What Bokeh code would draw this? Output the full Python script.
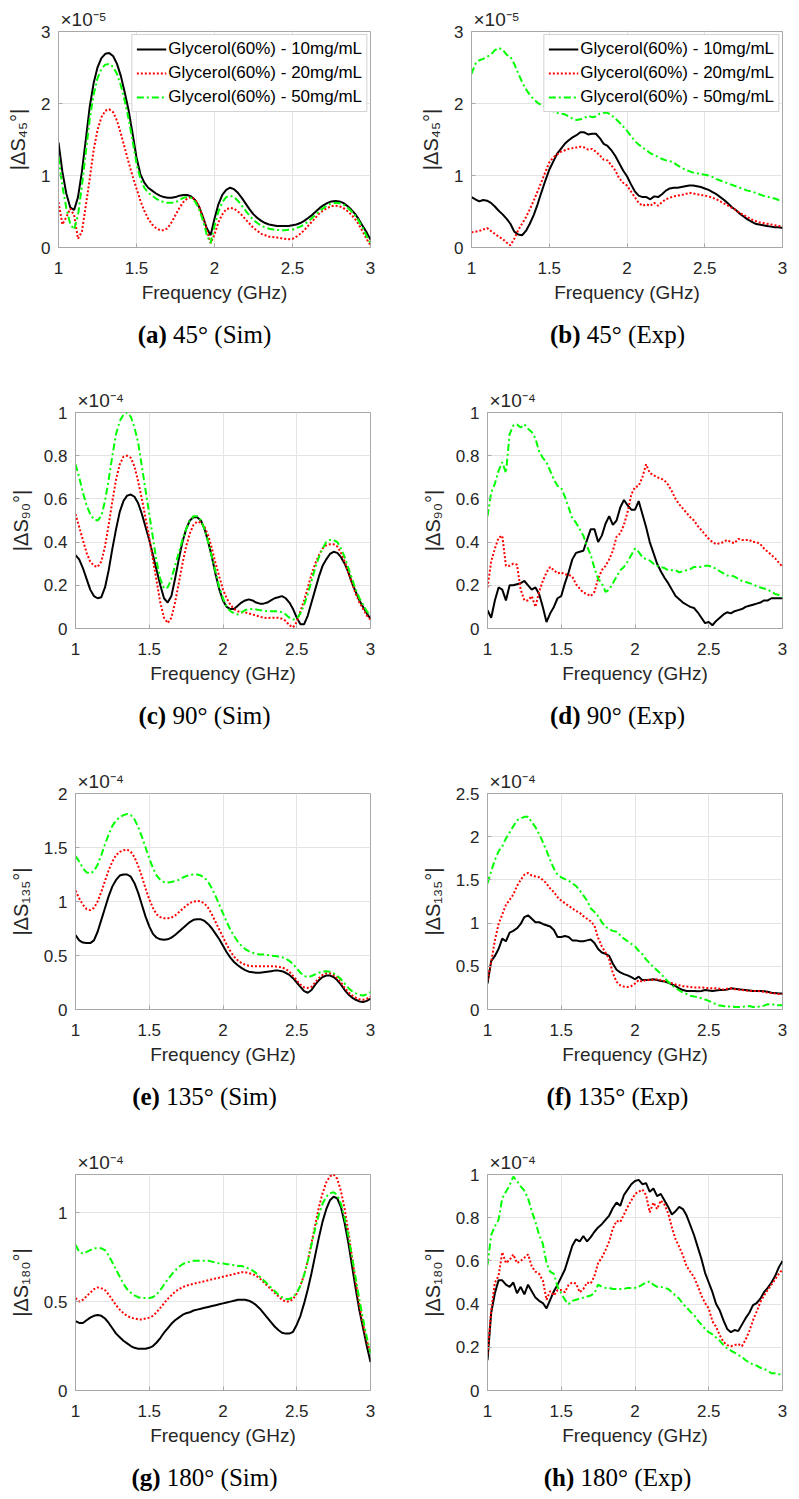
from bokeh.plotting import figure
from bokeh.models import Range1d, FixedTicker, CustomJSTickFormatter
from bokeh.layouts import column, row
from bokeh.core.properties import value
from bokeh.embed import file_html
from bokeh.resources import INLINE

# ---------------- data (values shown in units of the axis exponent) ----------------
freq = [round(1.0 + 0.025 * i, 3) for i in range(81)]

series_labels = ["Glycerol(60%) - 10mg/mL", "Glycerol(60%) - 20mg/mL", "Glycerol(60%) - 50mg/mL"]

# (a) 45 deg Sim  (x1e-5)
a_10 = [1.46, 1.05, 0.75, 0.56, 0.52, 0.70, 1.05, 1.50, 1.95, 2.28,
        2.50, 2.63, 2.69, 2.70, 2.66, 2.55, 2.38, 2.15, 1.90, 1.58,
        1.25, 1.02, 0.90, 0.83, 0.79, 0.75, 0.72, 0.70, 0.69, 0.69,
        0.70, 0.72, 0.73, 0.73, 0.71, 0.66, 0.57, 0.43, 0.27, 0.17,
        0.40, 0.60, 0.73, 0.80, 0.83, 0.81, 0.76, 0.69, 0.61, 0.53,
        0.46, 0.41, 0.37, 0.34, 0.32, 0.31, 0.30, 0.30, 0.30, 0.30,
        0.31, 0.32, 0.34, 0.37, 0.41, 0.45, 0.50, 0.55, 0.59, 0.62,
        0.64, 0.645, 0.64, 0.62, 0.58, 0.53, 0.47, 0.39, 0.30, 0.21,
        0.11]
a_20 = [0.63, 0.32, 0.42, 0.54, 0.45, 0.12, 0.22, 0.58, 0.95, 1.35,
        1.63, 1.81, 1.90, 1.92, 1.88, 1.76, 1.58, 1.38, 1.18, 0.99,
        0.82, 0.65, 0.51, 0.40, 0.32, 0.27, 0.24, 0.24, 0.27, 0.35,
        0.45, 0.55, 0.63, 0.68, 0.70, 0.67, 0.58, 0.43, 0.25, 0.06,
        0.18, 0.35, 0.46, 0.53, 0.55, 0.54, 0.50, 0.45, 0.39, 0.33,
        0.27, 0.23, 0.19, 0.17, 0.15, 0.145, 0.14, 0.13, 0.12, 0.115,
        0.12, 0.15, 0.19, 0.24, 0.30, 0.36, 0.42, 0.48, 0.52, 0.55,
        0.575, 0.58, 0.575, 0.55, 0.51, 0.46, 0.40, 0.32, 0.22, 0.12,
        0.03]
a_50 = [1.25, 0.85, 0.55, 0.33, 0.25, 0.45, 0.85, 1.32, 1.78, 2.12,
        2.35, 2.48, 2.54, 2.55, 2.51, 2.41, 2.25, 2.03, 1.78, 1.48,
        1.17, 0.95, 0.83, 0.76, 0.72, 0.68, 0.65, 0.63, 0.62, 0.62,
        0.63, 0.66, 0.69, 0.70, 0.69, 0.64, 0.54, 0.38, 0.18, 0.06,
        0.30, 0.50, 0.63, 0.70, 0.72, 0.70, 0.65, 0.58, 0.51, 0.44,
        0.38, 0.34, 0.30, 0.28, 0.26, 0.25, 0.245, 0.24, 0.24, 0.245,
        0.25, 0.27, 0.29, 0.32, 0.36, 0.41, 0.46, 0.51, 0.55, 0.59,
        0.61, 0.62, 0.615, 0.60, 0.56, 0.51, 0.45, 0.37, 0.27, 0.16,
        0.06]

# (b) 45 deg Exp  (x1e-5)
b_10 = [0.70, 0.67, 0.64, 0.66, 0.65, 0.62, 0.57, 0.51, 0.46, 0.40,
        0.33, 0.22, 0.18, 0.17, 0.23, 0.33, 0.45, 0.60, 0.77, 0.93,
        1.08, 1.19, 1.30, 1.37, 1.44, 1.49, 1.53, 1.56, 1.60, 1.60,
        1.57, 1.58, 1.58, 1.52, 1.44, 1.41, 1.35, 1.27, 1.17, 1.07,
        0.99, 0.88, 0.78, 0.72, 0.70, 0.70, 0.67, 0.71, 0.70, 0.74,
        0.79, 0.82, 0.83, 0.83, 0.84, 0.85, 0.86, 0.86, 0.85, 0.84,
        0.82, 0.80, 0.77, 0.74, 0.70, 0.66, 0.61, 0.56, 0.52, 0.47,
        0.43, 0.39, 0.36, 0.33, 0.32, 0.31, 0.30, 0.29, 0.28, 0.28,
        0.27]
b_20 = [0.21, 0.22, 0.23, 0.25, 0.27, 0.23, 0.19, 0.15, 0.12, 0.07,
        0.03, 0.12, 0.24, 0.33, 0.42, 0.53, 0.65, 0.78, 0.91, 1.05,
        1.18, 1.25, 1.29, 1.33, 1.35, 1.37, 1.38, 1.39, 1.40, 1.39,
        1.36, 1.37, 1.33, 1.28, 1.22, 1.21, 1.14, 1.07, 0.96, 0.90,
        0.86, 0.78, 0.70, 0.62, 0.58, 0.60, 0.58, 0.62, 0.58, 0.63,
        0.67, 0.69, 0.71, 0.72, 0.73, 0.74, 0.76, 0.75, 0.74, 0.73,
        0.72, 0.71, 0.69, 0.67, 0.64, 0.61, 0.58, 0.55, 0.52, 0.48,
        0.45, 0.42, 0.39, 0.37, 0.35, 0.34, 0.33, 0.32, 0.31, 0.30,
        0.29]
b_50 = [2.41, 2.55, 2.60, 2.62, 2.65, 2.68, 2.74, 2.77, 2.75, 2.68,
        2.65, 2.55, 2.42, 2.30, 2.20, 2.12, 2.06, 2.01, 1.98, 1.95,
        1.92, 1.89, 1.87, 1.86, 1.85, 1.82, 1.79, 1.77, 1.78, 1.80,
        1.83, 1.81, 1.82, 1.86, 1.87, 1.87, 1.84, 1.79, 1.74, 1.68,
        1.62, 1.55, 1.48, 1.43, 1.39, 1.35, 1.31, 1.28, 1.26, 1.23,
        1.21, 1.20, 1.18, 1.14, 1.11, 1.08, 1.06, 1.04, 1.03, 1.02,
        1.01, 1.00, 0.98, 0.95, 0.93, 0.91, 0.89, 0.87, 0.85, 0.83,
        0.81, 0.79, 0.78, 0.76, 0.74, 0.72, 0.71, 0.69, 0.68, 0.66,
        0.65]

# (c) 90 deg Sim  (x1e-4)
c_10 = [0.34, 0.32, 0.28, 0.23, 0.18, 0.15, 0.14, 0.145, 0.19, 0.27,
        0.37, 0.46, 0.54, 0.59, 0.615, 0.62, 0.61, 0.58, 0.53, 0.47,
        0.41, 0.34, 0.27, 0.20, 0.14, 0.12, 0.15, 0.23, 0.32, 0.40,
        0.46, 0.50, 0.515, 0.515, 0.50, 0.46, 0.40, 0.33, 0.25, 0.18,
        0.13, 0.10, 0.09, 0.09, 0.105, 0.12, 0.13, 0.135, 0.13, 0.12,
        0.115, 0.115, 0.12, 0.13, 0.14, 0.145, 0.15, 0.14, 0.12, 0.09,
        0.05, 0.02, 0.02, 0.06, 0.12, 0.18, 0.24, 0.29, 0.32, 0.345,
        0.355, 0.35, 0.33, 0.30, 0.26, 0.21, 0.17, 0.13, 0.10, 0.07,
        0.045]
c_20 = [0.53, 0.47, 0.41, 0.35, 0.31, 0.29, 0.285, 0.31, 0.38, 0.48,
        0.59, 0.69, 0.76, 0.795, 0.80, 0.79, 0.75, 0.68, 0.60, 0.51,
        0.42, 0.32, 0.22, 0.12, 0.05, 0.025, 0.05, 0.12, 0.21, 0.30,
        0.38, 0.44, 0.48, 0.495, 0.49, 0.47, 0.43, 0.37, 0.30, 0.24,
        0.18, 0.14, 0.11, 0.09, 0.08, 0.075, 0.075, 0.07, 0.065, 0.06,
        0.055, 0.05, 0.048, 0.05, 0.05, 0.05, 0.045, 0.035, 0.015, 0.005,
        0.03, 0.08, 0.13, 0.19, 0.25, 0.30, 0.34, 0.37, 0.385, 0.39,
        0.39, 0.38, 0.35, 0.31, 0.26, 0.21, 0.16, 0.12, 0.09, 0.06,
        0.04]
c_50 = [0.76, 0.70, 0.63, 0.57, 0.53, 0.505, 0.50, 0.52, 0.59, 0.69,
        0.80, 0.90, 0.96, 0.99, 1.00, 0.98, 0.93, 0.86, 0.75, 0.64,
        0.53, 0.42, 0.31, 0.23, 0.185, 0.19, 0.23, 0.29, 0.35, 0.41,
        0.46, 0.50, 0.52, 0.52, 0.50, 0.46, 0.40, 0.33, 0.26, 0.19,
        0.14, 0.10, 0.08, 0.07, 0.065, 0.075, 0.085, 0.09, 0.09, 0.088,
        0.085, 0.082, 0.08, 0.08, 0.08, 0.08, 0.075, 0.065, 0.05, 0.042,
        0.045, 0.07, 0.11, 0.16, 0.22, 0.28, 0.33, 0.37, 0.40, 0.41,
        0.41, 0.40, 0.37, 0.33, 0.28, 0.23, 0.18, 0.14, 0.11, 0.08,
        0.06]

# (d) 90 deg Exp  (x1e-4)
d_10 = [0.085, 0.05, 0.13, 0.19, 0.18, 0.13, 0.20, 0.20, 0.205, 0.21,
        0.22, 0.20, 0.18, 0.19, 0.16, 0.10, 0.03, 0.07, 0.10, 0.14,
        0.15, 0.21, 0.26, 0.32, 0.35, 0.355, 0.36, 0.41, 0.46, 0.46,
        0.40, 0.43, 0.485, 0.52, 0.48, 0.50, 0.56, 0.595, 0.57, 0.55,
        0.55, 0.59, 0.53, 0.47, 0.40, 0.35, 0.30, 0.265, 0.235, 0.21,
        0.18, 0.15, 0.135, 0.12, 0.11, 0.10, 0.095, 0.075, 0.05, 0.025,
        0.03, 0.015, 0.035, 0.05, 0.065, 0.075, 0.07, 0.08, 0.085, 0.09,
        0.10, 0.105, 0.11, 0.115, 0.12, 0.13, 0.13, 0.14, 0.14, 0.14,
        0.14]
d_20 = [0.19, 0.31, 0.37, 0.42, 0.43, 0.29, 0.29, 0.30, 0.295, 0.18,
        0.13, 0.13, 0.15, 0.10, 0.17, 0.22, 0.26, 0.285, 0.27, 0.255,
        0.26, 0.25, 0.25, 0.24, 0.205, 0.185, 0.165, 0.16, 0.15, 0.17,
        0.23, 0.27, 0.29, 0.32, 0.36, 0.425, 0.44, 0.48, 0.54, 0.62,
        0.655, 0.66, 0.70, 0.76, 0.72, 0.71, 0.70, 0.695, 0.685, 0.665,
        0.635, 0.60, 0.575, 0.555, 0.535, 0.515, 0.50, 0.475, 0.455, 0.435,
        0.415, 0.40, 0.39, 0.395, 0.40, 0.41, 0.40, 0.395, 0.415, 0.41,
        0.41, 0.41, 0.40, 0.40, 0.39, 0.37, 0.355, 0.34, 0.325, 0.305,
        0.285]
d_50 = [0.52, 0.63, 0.67, 0.73, 0.77, 0.72, 0.90, 0.94, 0.945, 0.93,
        0.945, 0.925, 0.91, 0.88, 0.82, 0.79, 0.77, 0.73, 0.69, 0.66,
        0.65, 0.61, 0.56, 0.51, 0.49, 0.46, 0.43, 0.38, 0.34, 0.28,
        0.23, 0.21, 0.17, 0.18, 0.21, 0.24, 0.27, 0.285, 0.31, 0.34,
        0.37, 0.355, 0.33, 0.32, 0.315, 0.30, 0.29, 0.285, 0.28, 0.27,
        0.27, 0.27, 0.26, 0.265, 0.27, 0.275, 0.285, 0.285, 0.285, 0.29,
        0.29, 0.285, 0.275, 0.265, 0.255, 0.245, 0.245, 0.24, 0.23, 0.22,
        0.215, 0.21, 0.205, 0.195, 0.19, 0.185, 0.18, 0.17, 0.16, 0.155,
        0.145]

# (e) 135 deg Sim  (x1e-4)
e_10 = [0.69, 0.64, 0.62, 0.615, 0.615, 0.64, 0.72, 0.83, 0.94, 1.05,
        1.14, 1.20, 1.24, 1.25, 1.25, 1.23, 1.17, 1.08, 0.97, 0.86,
        0.77, 0.70, 0.665, 0.65, 0.645, 0.65, 0.665, 0.69, 0.72, 0.75,
        0.78, 0.81, 0.83, 0.835, 0.835, 0.82, 0.79, 0.75, 0.70, 0.65,
        0.59, 0.53, 0.48, 0.44, 0.41, 0.385, 0.365, 0.35, 0.345, 0.34,
        0.34, 0.345, 0.35, 0.355, 0.36, 0.36, 0.355, 0.34, 0.32, 0.29,
        0.25, 0.21, 0.17, 0.155, 0.18, 0.23, 0.27, 0.30, 0.315, 0.315,
        0.30, 0.27, 0.23, 0.18, 0.14, 0.11, 0.09, 0.075, 0.07, 0.08,
        0.10]
e_20 = [1.10, 1.03, 0.97, 0.93, 0.92, 0.94, 1.00, 1.09, 1.19, 1.29,
        1.37, 1.43, 1.46, 1.475, 1.48, 1.46, 1.41, 1.33, 1.23, 1.12,
        1.02, 0.94, 0.88, 0.855, 0.845, 0.845, 0.85, 0.87, 0.90, 0.93,
        0.96, 0.985, 1.00, 1.005, 1.00, 0.98, 0.94, 0.88, 0.81, 0.74,
        0.67, 0.60, 0.54, 0.49, 0.455, 0.43, 0.415, 0.405, 0.40, 0.40,
        0.40, 0.40, 0.40, 0.40, 0.40, 0.395, 0.39, 0.375, 0.35, 0.31,
        0.27, 0.23, 0.205, 0.20, 0.21, 0.25, 0.29, 0.32, 0.335, 0.335,
        0.32, 0.29, 0.25, 0.20, 0.16, 0.13, 0.11, 0.095, 0.09, 0.10,
        0.12]
e_50 = [1.42, 1.37, 1.31, 1.27, 1.26, 1.28, 1.34, 1.43, 1.53, 1.62,
        1.70, 1.75, 1.78, 1.80, 1.81, 1.80, 1.76, 1.69, 1.60, 1.50,
        1.40, 1.31, 1.24, 1.20, 1.18, 1.175, 1.18, 1.19, 1.20, 1.22,
        1.235, 1.245, 1.25, 1.25, 1.24, 1.22, 1.18, 1.12, 1.05, 0.97,
        0.89, 0.81, 0.74, 0.68, 0.63, 0.59, 0.56, 0.54, 0.525, 0.515,
        0.51, 0.51, 0.505, 0.50, 0.495, 0.49, 0.485, 0.47, 0.45, 0.42,
        0.38, 0.34, 0.31, 0.30, 0.31, 0.325, 0.34, 0.35, 0.355, 0.35,
        0.335, 0.31, 0.28, 0.24, 0.20, 0.17, 0.15, 0.135, 0.13, 0.14,
        0.16]

# (f) 135 deg Exp  (x1e-4)
f_10 = [0.30, 0.56, 0.62, 0.70, 0.82, 0.79, 0.89, 0.91, 0.94, 0.99,
        1.07, 1.09, 1.05, 1.01, 1.01, 0.99, 0.975, 0.96, 0.92, 0.84,
        0.84, 0.85, 0.84, 0.80, 0.80, 0.79, 0.79, 0.80, 0.81, 0.77,
        0.70, 0.66, 0.645, 0.62, 0.53, 0.46, 0.43, 0.41, 0.395, 0.375,
        0.35, 0.38, 0.34, 0.34, 0.345, 0.35, 0.34, 0.33, 0.325, 0.31,
        0.29, 0.27, 0.245, 0.225, 0.215, 0.215, 0.215, 0.21, 0.215, 0.225,
        0.22, 0.215, 0.22, 0.225, 0.225, 0.23, 0.245, 0.24, 0.235, 0.23,
        0.225, 0.22, 0.215, 0.215, 0.215, 0.21, 0.205, 0.195, 0.19, 0.185,
        0.185]
f_20 = [0.34, 0.55, 0.80, 0.99, 1.10, 1.21, 1.27, 1.33, 1.43, 1.50,
        1.56, 1.58, 1.55, 1.54, 1.53, 1.50, 1.46, 1.40, 1.36, 1.30,
        1.26, 1.23, 1.20, 1.17, 1.14, 1.12, 1.08, 1.05, 1.02, 0.97,
        0.83, 0.73, 0.66, 0.58, 0.42, 0.32, 0.28, 0.265, 0.26, 0.27,
        0.30, 0.34, 0.32, 0.345, 0.34, 0.345, 0.35, 0.34, 0.33, 0.32,
        0.305, 0.29, 0.28, 0.27, 0.265, 0.26, 0.255, 0.255, 0.255, 0.25,
        0.245, 0.245, 0.245, 0.24, 0.23, 0.24, 0.245, 0.235, 0.23, 0.225,
        0.22, 0.215, 0.215, 0.215, 0.21, 0.205, 0.195, 0.19, 0.185, 0.18,
        0.18]
f_50 = [1.46, 1.60, 1.73, 1.83, 1.89, 1.98, 2.05, 2.12, 2.19, 2.21,
        2.23, 2.23, 2.17, 2.11, 2.03, 1.94, 1.84, 1.73, 1.63, 1.56,
        1.53, 1.51, 1.49, 1.46, 1.43, 1.38, 1.32, 1.26, 1.17, 1.13,
        1.08, 1.01, 0.96, 0.93, 0.91, 0.90, 0.86, 0.82, 0.79, 0.76,
        0.73, 0.68, 0.64, 0.58, 0.535, 0.49, 0.455, 0.41, 0.37, 0.32,
        0.28, 0.25, 0.22, 0.195, 0.18, 0.16, 0.15, 0.145, 0.13, 0.115,
        0.10, 0.08, 0.06, 0.045, 0.04, 0.03, 0.04, 0.03, 0.03, 0.03,
        0.035, 0.04, 0.03, 0.03, 0.035, 0.045, 0.06, 0.065, 0.05, 0.05,
        0.05]

# (g) 180 deg Sim  (x1e-4)
g_10 = [0.39, 0.38, 0.38, 0.395, 0.41, 0.42, 0.425, 0.42, 0.405, 0.38,
        0.35, 0.32, 0.30, 0.28, 0.265, 0.25, 0.24, 0.235, 0.235, 0.235,
        0.24, 0.25, 0.27, 0.295, 0.325, 0.35, 0.375, 0.395, 0.41, 0.425,
        0.435, 0.44, 0.45, 0.455, 0.46, 0.465, 0.47, 0.475, 0.48, 0.485,
        0.49, 0.495, 0.50, 0.505, 0.51, 0.51, 0.51, 0.505, 0.495, 0.48,
        0.46, 0.435, 0.41, 0.385, 0.36, 0.34, 0.325, 0.32, 0.32, 0.33,
        0.37, 0.42, 0.49, 0.57, 0.66, 0.76, 0.86, 0.95, 1.02, 1.07,
        1.09, 1.08, 1.03, 0.94, 0.83, 0.70, 0.57, 0.45, 0.35, 0.25,
        0.16]
g_20 = [0.52, 0.50, 0.51, 0.53, 0.55, 0.57, 0.58, 0.575, 0.565, 0.54,
        0.51, 0.48, 0.455, 0.435, 0.42, 0.41, 0.405, 0.40, 0.40, 0.405,
        0.41, 0.42, 0.44, 0.465, 0.49, 0.515, 0.535, 0.555, 0.57, 0.58,
        0.59, 0.595, 0.60, 0.605, 0.61, 0.615, 0.62, 0.625, 0.63, 0.635,
        0.64, 0.645, 0.65, 0.655, 0.66, 0.665, 0.665, 0.66, 0.655, 0.645,
        0.63, 0.61, 0.59, 0.57, 0.55, 0.53, 0.51, 0.50, 0.50, 0.515,
        0.545, 0.59, 0.65, 0.73, 0.83, 0.93, 1.03, 1.11, 1.17, 1.205,
        1.215, 1.19, 1.12, 1.02, 0.89, 0.75, 0.61, 0.48, 0.37, 0.28,
        0.21]
g_50 = [0.82, 0.78, 0.77, 0.78, 0.79, 0.80, 0.80, 0.80, 0.79, 0.76,
        0.72, 0.68, 0.64, 0.60, 0.57, 0.55, 0.535, 0.525, 0.52, 0.52,
        0.52, 0.525, 0.54, 0.565, 0.595, 0.625, 0.65, 0.675, 0.695, 0.71,
        0.72, 0.725, 0.73, 0.73, 0.73, 0.73, 0.73, 0.725, 0.72, 0.715,
        0.715, 0.71, 0.71, 0.705, 0.70, 0.70, 0.695, 0.685, 0.675, 0.66,
        0.64, 0.62, 0.60, 0.58, 0.56, 0.54, 0.525, 0.515, 0.515, 0.525,
        0.55, 0.59, 0.65, 0.73, 0.82, 0.91, 0.99, 1.05, 1.09, 1.11,
        1.115, 1.10, 1.05, 0.97, 0.87, 0.75, 0.63, 0.51, 0.40, 0.30,
        0.21]

# (h) 180 deg Exp  (x1e-4)
h_10 = [0.14, 0.36, 0.45, 0.51, 0.51, 0.49, 0.48, 0.50, 0.45, 0.48,
        0.445, 0.49, 0.46, 0.43, 0.415, 0.405, 0.38, 0.42, 0.46, 0.49,
        0.525, 0.56, 0.615, 0.67, 0.70, 0.69, 0.715, 0.69, 0.71, 0.735,
        0.755, 0.77, 0.79, 0.81, 0.845, 0.87, 0.855, 0.905, 0.93, 0.955,
        0.97, 0.975, 0.955, 0.96, 0.92, 0.935, 0.90, 0.91, 0.88, 0.85,
        0.815, 0.83, 0.85, 0.84, 0.81, 0.765, 0.72, 0.665, 0.61, 0.545,
        0.50, 0.455, 0.40, 0.37, 0.325, 0.285, 0.27, 0.28, 0.275, 0.305,
        0.335, 0.36, 0.395, 0.405, 0.425, 0.455, 0.475, 0.50, 0.53, 0.57,
        0.60]
h_20 = [0.17, 0.37, 0.50, 0.53, 0.64, 0.59, 0.605, 0.63, 0.59, 0.60,
        0.615, 0.63, 0.575, 0.55, 0.54, 0.51, 0.42, 0.46, 0.44, 0.465,
        0.465, 0.455, 0.49, 0.50, 0.495, 0.455, 0.47, 0.50, 0.495, 0.53,
        0.59, 0.615, 0.65, 0.69, 0.75, 0.785, 0.78, 0.815, 0.85, 0.88,
        0.91, 0.92, 0.93, 0.905, 0.825, 0.87, 0.84, 0.88, 0.86, 0.82,
        0.755, 0.70, 0.665, 0.625, 0.575, 0.55, 0.525, 0.485, 0.44, 0.405,
        0.38, 0.32, 0.295, 0.255, 0.225, 0.21, 0.205, 0.21, 0.215, 0.205,
        0.235, 0.275, 0.325, 0.365, 0.41, 0.44, 0.465, 0.49, 0.515, 0.54,
        0.56]
h_50 = [0.58, 0.72, 0.76, 0.79, 0.89, 0.92, 0.95, 0.99, 0.97, 0.945,
        0.925, 0.89, 0.83, 0.78, 0.72, 0.68, 0.59, 0.55, 0.54, 0.48,
        0.45, 0.42, 0.40, 0.415, 0.42, 0.425, 0.43, 0.435, 0.44, 0.45,
        0.49, 0.48, 0.475, 0.475, 0.47, 0.47, 0.47, 0.47, 0.475, 0.475,
        0.475, 0.48, 0.49, 0.50, 0.505, 0.49, 0.48, 0.48, 0.475, 0.47,
        0.455, 0.44, 0.425, 0.40, 0.385, 0.365, 0.35, 0.325, 0.305, 0.285,
        0.27, 0.26, 0.245, 0.23, 0.21, 0.195, 0.185, 0.175, 0.165, 0.155,
        0.14, 0.13, 0.12, 0.115, 0.105, 0.10, 0.09, 0.08, 0.08, 0.075,
        0.075]

x_ticks = [1, 1.5, 2, 2.5, 3]
yticks_45 = [0, 1, 2, 3]
yticks_90 = [0, 0.2, 0.4, 0.6, 0.8, 1]
yticks_135s = [0, 0.5, 1, 1.5, 2]
yticks_135e = [0, 0.5, 1, 1.5, 2, 2.5]
yticks_180s = [0, 0.5, 1]
yticks_180e = [0, 0.2, 0.4, 0.6, 0.8, 1]

# ---------------- styling / layout ----------------
SANS = "Liberation Sans"
SERIF = "Liberation Serif"
FRAME_C = "#a8a8a8"
GRID_C = "#e4e4e4"
TXT_C = "#262626"
TOP, FRAME_H, BOTTOM = 31, 216, 70
CAP_SIZE = 25

SERIF_W = {'(': .333, ')': .333, ' ': .25, '°': .4, 'S': .556, 'i': .278, 'm': .778,
           'E': .611, 'x': .5, 'p': .5}
BOLD_W = {'(': .333, ')': .333, 'a': .5, 'b': .556, 'c': .444, 'd': .556,
          'e': .444, 'f': .333, 'g': .5, 'h': .556}


def tw(s, table, size):
    return sum(table.get(ch, .5) for ch in s) * size


def panel(angle, s10, s20, s50, ytop, yticks, expo, left_b, right_b, width, legend):
    p = figure(width=width, height=TOP + FRAME_H + BOTTOM,
               x_range=Range1d(1, 3), y_range=Range1d(0, ytop),
               output_backend="svg", toolbar_location=None,
               min_border_left=left_b, min_border_right=right_b,
               min_border_top=TOP, min_border_bottom=BOTTOM,
               background_fill_color="white", border_fill_color="white")
    p.outline_line_color = FRAME_C
    p.outline_line_width = 1
    # exponent of the y axis, shown above the top-left corner like MATLAB
    p.title.text = "×10" + expo
    p.title.align = "left"
    p.title.offset = 2
    p.title.standoff = 3
    p.title.text_font = SANS
    p.title.text_font_size = "19px"
    p.title.text_font_style = "normal"
    p.title.text_color = TXT_C

    p.xaxis.ticker = FixedTicker(ticks=x_ticks)
    p.yaxis.ticker = FixedTicker(ticks=yticks)
    p.xaxis.formatter = CustomJSTickFormatter(code="return tick.toString();")
    p.yaxis.formatter = CustomJSTickFormatter(code="return tick.toString();")
    for ax in (p.xaxis[0], p.yaxis[0]):
        ax.axis_line_color = FRAME_C
        ax.major_tick_line_color = FRAME_C
        ax.major_tick_in = 4
        ax.major_tick_out = 0
        ax.minor_tick_line_color = None
        ax.major_label_text_font = SANS
        ax.major_label_text_font_size = "17px"
        ax.major_label_text_color = TXT_C
        ax.axis_label_text_font = SANS
        ax.axis_label_text_font_size = "19px"
        ax.axis_label_text_font_style = "normal"
        ax.axis_label_text_color = TXT_C
    p.xaxis.major_label_standoff = 14
    p.yaxis.major_label_standoff = 8
    p.xaxis.axis_label = "Frequency (GHz)"
    p.xaxis.axis_label_standoff = 5
    sub = {"45": "₄₅", "90": "₉₀", "135": "₁₃₅", "180": "₁₈₀"}[angle]
    p.yaxis.axis_label = "|ΔS" + sub + "°|"
    p.yaxis.axis_label_text_font_size = "20px"
    p.yaxis.axis_label_standoff = 9
    p.grid.grid_line_color = GRID_C
    p.grid.grid_line_width = 1

    kw10 = dict(line_color="black", line_width=2)
    kw20 = dict(line_color="#ff0000", line_width=2, line_dash="2 2")
    kw50 = dict(line_color="#00ff00", line_width=2, line_dash="7 3 2 3")
    if legend:
        kw10["legend_label"] = series_labels[0]
        kw20["legend_label"] = series_labels[1]
        kw50["legend_label"] = series_labels[2]
    p.line(freq, s10, **kw10)
    p.line(freq, s20, **kw20)
    p.line(freq, s50, **kw50)
    if legend:
        lg = p.legend[0]
        lg.location = "top_right"
        lg.margin = 3
        lg.padding = 4
        lg.spacing = 4
        lg.label_height = 20
        lg.glyph_height = 20
        lg.glyph_width = 30
        lg.label_standoff = 2
        lg.label_text_font = SANS
        lg.label_text_font_size = "17px"
        lg.label_text_color = "black"
        lg.border_line_color = FRAME_C
        lg.border_line_width = 1
        lg.background_fill_alpha = 1.0
    return p


def caption(letter, angle, kind, width, height, center_x, center_from_top):
    c = figure(width=width, height=height, x_range=Range1d(0, width), y_range=Range1d(0, height),
               output_backend="svg", toolbar_location=None, x_axis_type=None, y_axis_type=None,
               min_border=0, min_border_left=0, min_border_right=0, min_border_top=0,
               min_border_bottom=0, outline_line_color=None,
               background_fill_color="white", border_fill_color="white")
    bold = "(" + letter + ")"
    rest = angle + "° (" + kind + ")"
    space = SERIF_W[' '] * CAP_SIZE
    total = tw(bold, BOLD_W, CAP_SIZE) + space + tw(rest, SERIF_W, CAP_SIZE)
    x0 = center_x - total / 2
    yc = height - center_from_top
    c.text(x=[x0], y=[yc], text=[bold], text_font=value(SERIF),
           text_font_size=value(f"{CAP_SIZE}px"), text_font_style=value("bold"),
           text_color="black", text_baseline=value("middle"), text_align=value("left"))
    c.text(x=[x0 + tw(bold, BOLD_W, CAP_SIZE) + space], y=[yc], text=[rest],
           text_font=value(SERIF), text_font_size=value(f"{CAP_SIZE}px"),
           text_font_style=value("normal"), text_color="black",
           text_baseline=value("middle"), text_align=value("left"))
    return c


LW, RW = 400, 399
ROW_H, LAST_H = 381, 352
PLOT_H = TOP + FRAME_H + BOTTOM
CAP_H, CAP_LAST = ROW_H - PLOT_H, LAST_H - PLOT_H
CAP_TOP = 87 - BOTTOM  # caption centre, measured from the top of the caption strip
LC, RC = 204, 217      # caption centres relative to each column's left edge

pa = panel("45", a_10, a_20, a_50, 3, yticks_45, "⁻⁵", 58, 30, LW, True)
pb = panel("45", b_10, b_20, b_50, 3, yticks_45, "⁻⁵", 71, 17, RW, True)
pc = panel("90", c_10, c_20, c_50, 1, yticks_90, "⁻⁴", 75, 30, LW, False)
pd = panel("90", d_10, d_20, d_50, 1, yticks_90, "⁻⁴", 87, 17, RW, False)
pe = panel("135", e_10, e_20, e_50, 2, yticks_135s, "⁻⁴", 75, 30, LW, False)
pf = panel("135", f_10, f_20, f_50, 2.5, yticks_135e, "⁻⁴", 87, 17, RW, False)
pg = panel("180", g_10, g_20, g_50, 1.215, yticks_180s, "⁻⁴", 75, 30, LW, False)
ph = panel("180", h_10, h_20, h_50, 1, yticks_180e, "⁻⁴", 87, 17, RW, False)

ca = caption("a", "45", "Sim", LW, CAP_H, LC, CAP_TOP)
cb = caption("b", "45", "Exp", RW, CAP_H, RC, CAP_TOP)
cc = caption("c", "90", "Sim", LW, CAP_H, LC, CAP_TOP)
cd = caption("d", "90", "Exp", RW, CAP_H, RC, CAP_TOP)
ce = caption("e", "135", "Sim", LW, CAP_H, LC, CAP_TOP)
cf = caption("f", "135", "Exp", RW, CAP_H, RC, CAP_TOP)
cg = caption("g", "180", "Sim", LW, CAP_LAST, LC, CAP_TOP)
ch = caption("h", "180", "Exp", RW, CAP_LAST, RC, CAP_TOP)

layout = column(row(pa, pb), row(ca, cb), row(pc, pd), row(cc, cd),
                row(pe, pf), row(ce, cf), row(pg, ph), row(cg, ch))

with open("out.html", "w") as fh:
    fh.write(file_html(layout, INLINE, title="Glycerol"))
